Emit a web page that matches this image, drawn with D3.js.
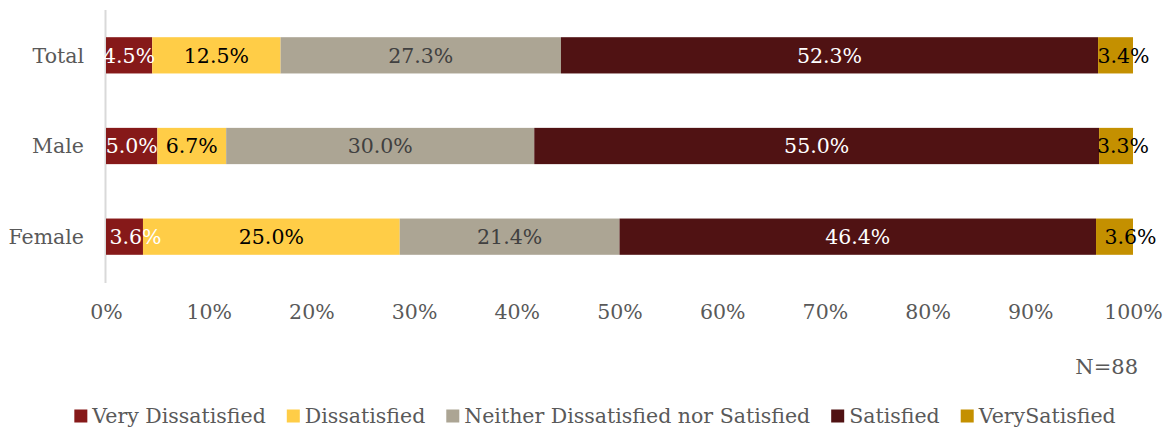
<!DOCTYPE html>
<html>
<head>
<meta charset="utf-8">
<script src="https://cdn.jsdelivr.net/npm/d3@7"></script>
<style>
  html, body { margin: 0; padding: 0; background: #fff; }
  svg { display: block; }
  text { font-family: "DejaVu Serif", Georgia, serif; }
</style>
</head>
<body>
<svg id="chart" width="1166" height="431"></svg>
<script>
// Satisfaction survey, share of respondents by group (percent)
const groups = ["Total", "Male", "Female"];
const seriesNames = ["Very Dissatisfied", "Dissatisfied", "Neither Dissatisfied nor Satisfied", "Satisfied", "VerySatisfied"];
const veryDissatisfied = [4.5, 5.0, 3.6];
const dissatisfied = [12.5, 6.7, 25.0];
const neither = [27.3, 30.0, 21.4];
const satisfied = [52.3, 55.0, 46.4];
const verySatisfied = [3.4, 3.3, 3.6];
const tickValues = [0, 10, 20, 30, 40, 50, 60, 70, 80, 90, 100];
const sampleNote = "N=88";

const seriesValues = [veryDissatisfied, dissatisfied, neither, satisfied, verySatisfied];
const fills = ["#861919", "#FFCD47", "#ACA594", "#501213", "#C49000"];
const labelFills = ["#ffffff", "#000000", "#404040", "#ffffff", "#000000"];

const rows = groups.map((g, i) => {
  const r = { group: g };
  seriesNames.forEach((s, j) => { r[s] = seriesValues[j][i]; });
  return r;
});

const svg = d3.select("#chart");
const x = d3.scaleLinear().domain([0, 100]).range([106, 1133]);
const y = d3.scaleBand().domain(groups).range([10, 282]).paddingInner(0.6).paddingOuter(0.3);

const stack = d3.stack().keys(seriesNames);
const layers = stack(rows);

// category axis line
svg.append("line")
  .attr("x1", x(0) - 0.5).attr("x2", x(0) - 0.5)
  .attr("y1", 10).attr("y2", 283)
  .attr("stroke", "#d9d9d9").attr("stroke-width", 2);

const layerG = svg.selectAll("g.layer").data(layers).join("g")
  .attr("class", "layer")
  .attr("fill", (d, i) => fills[i]);

layerG.selectAll("rect").data(d => d).join("rect")
  .attr("x", d => x(d[0]))
  .attr("y", d => y(d.data.group))
  .attr("width", d => x(d[1]) - x(d[0]))
  .attr("height", y.bandwidth());

// value labels, a few nudged off the narrow segments
const nudge = { "2-0": 11, "0-4": 8, "1-4": 7, "2-4": 16 };
layers.forEach((layer, i) => {
  svg.append("g").selectAll("text").data(layer).join("text")
    .attr("x", (d, k) => (x(d[0]) + x(d[1])) / 2 + (nudge[k + "-" + i] || 0))
    .attr("y", d => y(d.data.group) + y.bandwidth() / 2)
    .attr("dy", "0.36em")
    .attr("text-anchor", "middle")
    .attr("font-size", 20.5)
    .attr("fill", labelFills[i])
    .text(d => d3.format(".1f")(d[1] - d[0]) + "%");
});

// group labels
svg.append("g").selectAll("text").data(groups).join("text")
  .attr("x", 84)
  .attr("y", d => y(d) + y.bandwidth() / 2)
  .attr("dy", "0.36em")
  .attr("text-anchor", "end")
  .attr("font-size", 20.5)
  .attr("fill", "#595959")
  .text(d => d);

// percentage axis
const xAxis = d3.axisBottom(x).tickValues(tickValues).tickFormat(d => d + "%").tickSize(0).tickPadding(0);
const axisG = svg.append("g").attr("transform", "translate(0,304)").call(xAxis);
axisG.select(".domain").remove();
axisG.selectAll("text")
  .attr("font-family", "DejaVu Serif, Georgia, serif")
  .attr("font-size", 20.5)
  .attr("fill", "#595959")
  .attr("dy", "0.71em");

// sample size
svg.append("text")
  .attr("x", 1138).attr("y", 366).attr("dy", "0.36em")
  .attr("text-anchor", "end")
  .attr("font-size", 21)
  .attr("fill", "#595959")
  .text(sampleNote);

// legend
const legend = svg.append("g");
const items = legend.selectAll("g").data(seriesNames).join("g");
items.append("rect").attr("width", 13).attr("height", 13).attr("y", -6.5)
  .attr("fill", (d, i) => fills[i]);
items.append("text").attr("x", 18).attr("dy", "0.36em")
  .attr("font-size", 20.5).attr("fill", "#595959").text(d => d);
let cursor = 0;
const gap = 21;
items.each(function () {
  const w = this.querySelector("text").getComputedTextLength() + 18;
  d3.select(this).attr("transform", `translate(${cursor},0)`);
  cursor += w + gap;
});
const total = cursor - gap;
legend.attr("transform", `translate(${(1166 - total) / 2 + 12},416)`);
</script>
</body>
</html>
